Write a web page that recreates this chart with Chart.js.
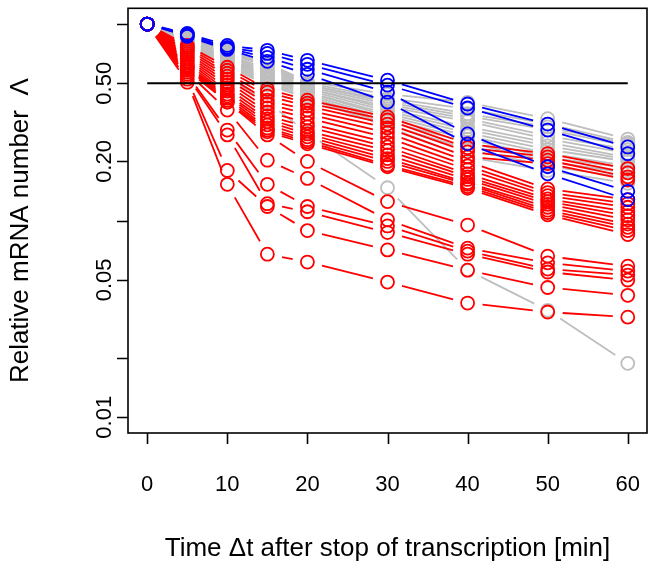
<!DOCTYPE html>
<html>
<head>
<meta charset="utf-8">
<script src="https://cdn.jsdelivr.net/npm/chart.js@4.4.1/dist/chart.umd.min.js"></script>
<style>
  html, body { margin: 0; padding: 0; background: #fff; }
  #wrap { width: 656px; height: 566px; }
</style>
</head>
<body>
<div id="wrap"><canvas id="chart" width="656" height="566"></canvas></div>
<script>
// time points (min) and axis ticks
const times = [0, 5, 10, 15, 20, 30, 40, 50, 60];
const xTicks = [0, 10, 20, 30, 40, 50, 60];
const yTicks = [0.01, 0.02, 0.05, 0.1, 0.2, 0.5, 1];
const yTickLabels = ['0.01', '', '0.05', '', '0.20', '0.50', ''];
const refLevel = 0.5;

// relative mRNA number per gene, one row per gene
const blueSeries = [
  [1, 0.895, 0.778, 0.735, 0.654, 0.518, 0.392, 0.310, 0.237],
  [1, 0.885, 0.761, 0.709, 0.624, 0.489, 0.374, 0.289, 0.219],
  [1, 0.875, 0.752, 0.677, 0.589, 0.450, 0.276, 0.188, 0.141],
  [1, 0.865, 0.743, 0.646, 0.555, 0.401, 0.246, 0.173, 0.128],
];

const graySeries = [
  [1, 0.87, 0.73, 0.63, 0.51, 0.44, 0.40, 0.33, 0.26],
  [1, 0.86, 0.72, 0.62, 0.50, 0.42, 0.37, 0.31, 0.25],
  [1, 0.86, 0.71, 0.61, 0.49, 0.41, 0.35, 0.30, 0.245],
  [1, 0.85, 0.70, 0.59, 0.49, 0.40, 0.34, 0.29, 0.24],
  [1, 0.84, 0.69, 0.58, 0.48, 0.39, 0.33, 0.27, 0.23],
  [1, 0.83, 0.68, 0.57, 0.47, 0.38, 0.32, 0.26, 0.22],
  [1, 0.83, 0.67, 0.56, 0.47, 0.37, 0.30, 0.25, 0.21],
  [1, 0.82, 0.66, 0.55, 0.46, 0.36, 0.29, 0.24, 0.205],
  [1, 0.81, 0.66, 0.54, 0.45, 0.35, 0.28, 0.23, 0.20],
  [1, 0.80, 0.65, 0.53, 0.45, 0.34, 0.27, 0.22, 0.19],
  [1, 0.80, 0.64, 0.52, 0.44, 0.33, 0.26, 0.21, 0.185],
  [1, 0.79, 0.63, 0.51, 0.43, 0.32, 0.25, 0.20, 0.175],
  [1, 0.78, 0.62, 0.50, 0.42, 0.31, 0.23, 0.19, 0.165],
  [1, 0.77, 0.61, 0.49, 0.42, 0.30, 0.21, 0.18, 0.155],
  [1, 0.76, 0.54, 0.40, 0.28, 0.147, 0.056, 0.035, 0.0188],
];

const redSeries = [
  [1, 0.778, 0.603, 0.466, 0.410, 0.337, 0.246, 0.219, 0.184],
  [1, 0.761, 0.582, 0.450, 0.396, 0.325, 0.235, 0.211, 0.175],
  [1, 0.743, 0.562, 0.430, 0.383, 0.310, 0.224, 0.203, 0.167],
  [1, 0.726, 0.543, 0.410, 0.365, 0.296, 0.211, 0.195, 0.161],
  [1, 0.709, 0.524, 0.392, 0.349, 0.280, 0.200, 0.145, 0.128],
  [1, 0.693, 0.506, 0.374, 0.333, 0.264, 0.190, 0.139, 0.122],
  [1, 0.677, 0.489, 0.357, 0.314, 0.249, 0.182, 0.134, 0.117],
  [1, 0.661, 0.472, 0.341, 0.300, 0.237, 0.173, 0.129, 0.111],
  [1, 0.646, 0.456, 0.329, 0.286, 0.227, 0.167, 0.125, 0.106],
  [1, 0.632, 0.440, 0.318, 0.276, 0.216, 0.162, 0.121, 0.101],
  [1, 0.617, 0.430, 0.307, 0.267, 0.207, 0.156, 0.117, 0.096],
  [1, 0.610, 0.420, 0.296, 0.258, 0.200, 0.153, 0.113, 0.0925],
  [1, 0.603, 0.410, 0.289, 0.252, 0.192, 0.149, 0.110, 0.089],
  [1, 0.596, 0.401, 0.283, 0.246, 0.188, 0.146, 0.107, 0.085],
  // fast decaying ones
  [1, 0.582, 0.401, 0.273, 0.200, 0.125, 0.095, 0.066, 0.0587],
  [1, 0.569, 0.365, 0.203, 0.164, 0.101, 0.0725, 0.0610, 0.0554],
  [1, 0.555, 0.289, 0.153, 0.118, 0.094, 0.070, 0.0567, 0.0529],
  [1, 0.543, 0.273, 0.122, 0.111, 0.087, 0.0675, 0.0548, 0.0499],
  [1, 0.524, 0.180, 0.118, 0.089, 0.071, 0.056, 0.0457, 0.0417],
  [1, 0.506, 0.153, 0.0675, 0.0616, 0.0487, 0.0381, 0.0343, 0.0323],
];

const BLUE = '#0000ff';
const RED = '#ff0000';
const GRAY = '#bebebe';

const FONT = '"Liberation Sans", Arial, Helvetica, sans-serif';

function makeSet(values, color) {
  return {
    data: values.map((v, i) => ({ x: times[i], y: v })),
    borderColor: color,
    backgroundColor: 'rgba(0,0,0,0)',
    pointBorderColor: color,
    pointBackgroundColor: 'rgba(0,0,0,0)',
    pointRadius: 6.5,
    pointBorderWidth: 1.8,
    pointHoverRadius: 6.5,
    showLine: false,
  };
}

// first dataset is drawn on top in Chart.js
const datasets = [
  ...blueSeries.map(s => makeSet(s, BLUE)),
  ...redSeries.map(s => makeSet(s, RED)),
  ...graySeries.map(s => makeSet(s, GRAY)),
];

// R type="b" style: segments between points, with a gap around each circle
const gapLines = {
  id: 'gapLines',
  afterDatasetDraw(chart, args) {
    const ds = chart.data.datasets[args.index];
    const pts = args.meta.data;
    const ctx = chart.ctx;
    const gap = 15;
    const area = chart.chartArea;
    ctx.save();
    ctx.beginPath();
    ctx.rect(area.left, area.top, area.right - area.left, area.bottom - area.top);
    ctx.clip();
    ctx.strokeStyle = ds.borderColor;
    ctx.lineWidth = 1.8;
    ctx.beginPath();
    for (let i = 0; i < pts.length - 1; i++) {
      const a = pts[i], b = pts[i + 1];
      const dx = b.x - a.x, dy = b.y - a.y;
      const d = Math.hypot(dx, dy);
      if (d <= 2 * gap) continue;
      const ux = dx / d, uy = dy / d;
      ctx.moveTo(a.x + ux * gap, a.y + uy * gap);
      ctx.lineTo(b.x - ux * gap, b.y - uy * gap);
    }
    ctx.stroke();
    ctx.restore();
  },
  afterDatasetsDraw(chart) {
    // reference line at 0.5
    const { ctx, scales: { x, y } } = chart;
    ctx.save();
    ctx.strokeStyle = '#000';
    ctx.lineWidth = 2;
    ctx.beginPath();
    ctx.moveTo(x.getPixelForValue(times[0]), y.getPixelForValue(refLevel));
    ctx.lineTo(x.getPixelForValue(times[times.length - 1]), y.getPixelForValue(refLevel));
    ctx.stroke();
    ctx.restore();
  },
  afterDraw(chart) {
    const { ctx, chartArea: a, scales: { x, y } } = chart;
    const tickLen = 11;
    ctx.save();
    ctx.strokeStyle = '#000';
    ctx.lineWidth = 1.6;
    ctx.strokeRect(a.left, a.top, a.right - a.left, a.bottom - a.top);

    ctx.beginPath();
    xTicks.forEach(t => {
      const px = Math.round(x.getPixelForValue(t)) + 0.5;
      ctx.moveTo(px, a.bottom);
      ctx.lineTo(px, a.bottom + tickLen);
    });
    yTicks.forEach(v => {
      const py = Math.round(y.getPixelForValue(v)) + 0.5;
      ctx.moveTo(a.left, py);
      ctx.lineTo(a.left - tickLen, py);
    });
    ctx.stroke();

    ctx.fillStyle = '#000';
    ctx.font = '22px ' + FONT;
    ctx.textAlign = 'center';
    ctx.textBaseline = 'alphabetic';
    xTicks.forEach(t => {
      ctx.fillText(String(t), x.getPixelForValue(t), 491);
    });
    yTicks.forEach((v, i) => {
      if (!yTickLabels[i]) return;
      ctx.save();
      ctx.translate(111, y.getPixelForValue(v));
      ctx.rotate(-Math.PI / 2);
      ctx.fillText(yTickLabels[i], 0, 0);
      ctx.restore();
    });

    // axis titles
    ctx.font = '26px ' + FONT;
    ctx.fillText('Time \u0394t after stop of transcription [min]', (a.left + a.right) / 2, 556);
    ctx.save();
    ctx.translate(28, (a.top + a.bottom) / 2 + 10);
    ctx.rotate(-Math.PI / 2);
    ctx.fillText('Relative mRNA number  \u039b', 0, 0);
    ctx.restore();
    ctx.restore();
  }
};

new Chart(document.getElementById('chart'), {
  type: 'scatter',
  data: { datasets },
  options: {
    responsive: false,
    animation: false,
    layout: { padding: { left: 128, top: 6, right: 9, bottom: 133 } },
    plugins: {
      legend: { display: false },
      tooltip: { enabled: false },
    },
    events: [],
    scales: {
      x: { type: 'linear', display: false, min: -2.4, max: 62.4 },
      y: { type: 'logarithmic', display: false, min: 0.008318, max: 1.2023 },
    },
  },
  plugins: [gapLines],
});
</script>
</body>
</html>
